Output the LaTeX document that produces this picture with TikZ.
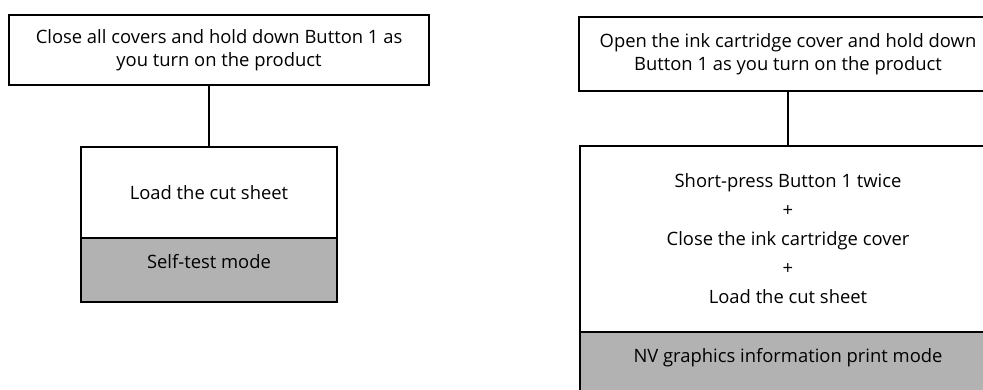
\documentclass[tikz,border=0pt]{standalone}
\usepackage{fontspec}
\setmainfont{Open Sans}
\usetikzlibrary{positioning}

\tikzset{
    stepbox/.style={draw, line width=2pt, align=center, outer sep=0pt,
        font=\fontsize{18.4}{23}\selectfont},
    modebox/.style={stepbox, fill=black!30, minimum height=64pt, text depth=18pt},
}

\begin{document}
\begin{tikzpicture}[x=1pt, y=1pt]
    \useasboundingbox (0,0) rectangle (983,390);
    \clip (0,0) rectangle (983,390);

    % self-test
    \node[stepbox, minimum width=420pt, minimum height=70pt] (startA) at (219,340)
        {Close all covers and hold down Button 1 as\\ you turn on the product};
    \node[stepbox, minimum width=256pt, minimum height=91pt] (loadA) at (209,197.5)
        {Load the cut sheet};
    \node[modebox, minimum width=256pt, below=0pt of loadA] (modeA) {Self-test mode};
    \draw[line width=2pt] (loadA.north) -- (loadA.north |- startA.south);

    % NV graphics information print
    \node[stepbox, minimum width=418pt, minimum height=74pt] (startB) at (788,336)
        {Open the ink cartridge cover and hold down\\ Button 1 as you turn on the product};
    \node[stepbox, minimum width=416pt, minimum height=186pt,
        font=\fontsize{18.4}{29}\selectfont] (loadB) at (788,151)
        {Short-press Button 1 twice\\ +\\ Close the ink cartridge cover\\ +\\ Load the cut sheet};
    \node[modebox, minimum width=416pt, below=0pt of loadB] (modeB)
        {NV graphics information print mode};
    \draw[line width=2pt] (loadB.north) -- (startB.south);
\end{tikzpicture}
\end{document}
